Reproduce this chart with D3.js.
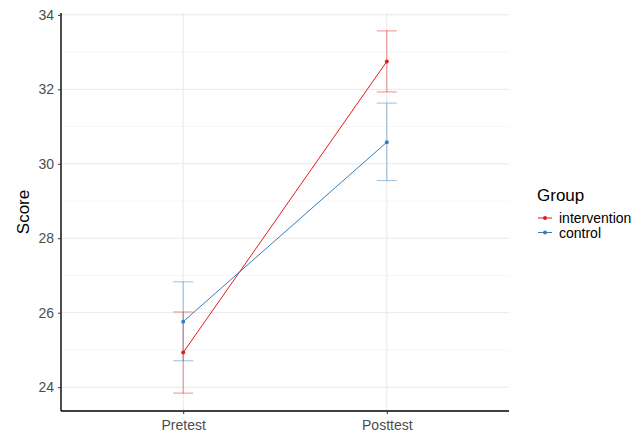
<!DOCTYPE html>
<html>
<head>
<meta charset="utf-8">
<script src="https://cdn.jsdelivr.net/npm/d3@7"></script>
<style>
  body { margin: 0; background: #fff; }
  text { font-family: "Liberation Sans", Arial, sans-serif; }
</style>
</head>
<body>
<div id="chart"></div>
<script>
const WIDTH = 631;
const HEIGHT = 433;

// data
const times = ["Pretest", "Posttest"];
const groups = ["intervention", "control"];
const colors = ["#E41A1C", "#377EB8"];
const means = {
    intervention: [24.93, 32.75],
    control: [25.76, 30.58]
};
const lower = {
    intervention: [23.84, 31.93],
    control: [24.71, 29.55]
};
const upper = {
    intervention: [26.02, 33.57],
    control: [26.83, 31.63]
};
const yTicks = [24, 26, 28, 30, 32, 34];
const yMinor = [25, 27, 29, 31, 33];

const margin = {left: 61, right: 122, top: 13, bottom: 22};
const plotW = WIDTH - margin.left - margin.right;
const plotH = HEIGHT - margin.top - margin.bottom;

const svg = d3.select("#chart").append("svg")
    .attr("width", WIDTH)
    .attr("height", HEIGHT);

const g = svg.append("g")
    .attr("transform", "translate(" + margin.left + "," + margin.top + ")");

// discrete x with ggplot style expansion (0.6 on each side)
const xIdx = d3.scaleLinear().domain([0.4, 2.6]).range([0, plotW]);
const x = d => xIdx(times.indexOf(d) + 1);

const y = d3.scaleLinear().domain([23.36, 34.05]).range([plotH, 0]);

const color = d3.scaleOrdinal().domain(groups).range(colors);

// grid
g.selectAll(".minor").data(yMinor).enter().append("line")
    .attr("x1", 0).attr("x2", plotW)
    .attr("y1", d => y(d)).attr("y2", d => y(d))
    .attr("stroke", "#f0f0f0").attr("stroke-width", 0.6);

g.selectAll(".major").data(yTicks).enter().append("line")
    .attr("x1", 0).attr("x2", plotW)
    .attr("y1", d => y(d)).attr("y2", d => y(d))
    .attr("stroke", "#e8e8e8").attr("stroke-width", 1);

g.selectAll(".vmajor").data(times).enter().append("line")
    .attr("x1", d => x(d)).attr("x2", d => x(d))
    .attr("y1", 0).attr("y2", plotH)
    .attr("stroke", "#e8e8e8").attr("stroke-width", 1);

// error bars
groups.forEach(grp => {
    const c = color(grp);
    const eb = g.append("g").attr("stroke", c).attr("stroke-opacity", 0.45);
    times.forEach((t, i) => {
        const cx = x(t);
        eb.append("line")
            .attr("x1", cx).attr("x2", cx)
            .attr("y1", y(lower[grp][i])).attr("y2", y(upper[grp][i]))
            .attr("stroke-width", 1.1);
        [lower[grp][i], upper[grp][i]].forEach(v => {
            eb.append("line")
                .attr("x1", cx - 10).attr("x2", cx + 10)
                .attr("y1", y(v)).attr("y2", y(v))
                .attr("stroke-width", 1.1);
        });
    });
});

// lines + points
const line = d3.line()
    .x(d => x(d.t))
    .y(d => y(d.v));

groups.forEach(grp => {
    const pts = times.map((t, i) => ({t: t, v: means[grp][i]}));
    g.append("path")
        .datum(pts)
        .attr("d", line)
        .attr("fill", "none")
        .attr("stroke", color(grp))
        .attr("stroke-width", 1);
    g.selectAll(".pt-" + grp).data(pts).enter().append("circle")
        .attr("cx", d => x(d.t))
        .attr("cy", d => y(d.v))
        .attr("r", 2)
        .attr("fill", color(grp));
});

// axes
const yAxis = g.append("g")
    .call(d3.axisLeft(y).tickValues(yTicks).tickSize(3).tickPadding(4));
const xAxis = g.append("g")
    .attr("transform", "translate(0," + plotH + ")")
    .call(d3.axisBottom(xIdx).tickValues([1, 2]).tickFormat(d => times[d - 1]).tickSize(3).tickPadding(6));

[yAxis, xAxis].forEach(a => {
    a.select(".domain").attr("stroke", "#000").attr("stroke-width", 1.4);
    a.selectAll(".tick line").attr("stroke", "#333").attr("stroke-width", 1);
    a.selectAll(".tick text").attr("fill", "#4d4d4d").style("font-size", "14px");
});
xAxis.select(".domain").attr("d", "M0,0H" + plotW);
yAxis.select(".domain").attr("d", "M0," + plotH + "V0");

svg.append("text")
    .attr("transform", "translate(29," + (margin.top + plotH / 2) + ") rotate(-90)")
    .attr("text-anchor", "middle")
    .style("font-size", "17px")
    .attr("fill", "#000")
    .text("Score");

// legend
const legend = svg.append("g").attr("transform", "translate(537,0)");
legend.append("text")
    .attr("x", 0).attr("y", 201)
    .style("font-size", "17px")
    .text("Group");

groups.forEach((grp, i) => {
    const ly = 218 + i * 14.5;
    legend.append("line")
        .attr("x1", 1).attr("x2", 15)
        .attr("y1", ly).attr("y2", ly)
        .attr("stroke", color(grp)).attr("stroke-width", 1);
    legend.append("circle")
        .attr("cx", 8).attr("cy", ly).attr("r", 2)
        .attr("fill", color(grp));
    legend.append("text")
        .attr("x", 22).attr("y", ly + 5)
        .style("font-size", "14px")
        .text(grp);
});
</script>
</body>
</html>
